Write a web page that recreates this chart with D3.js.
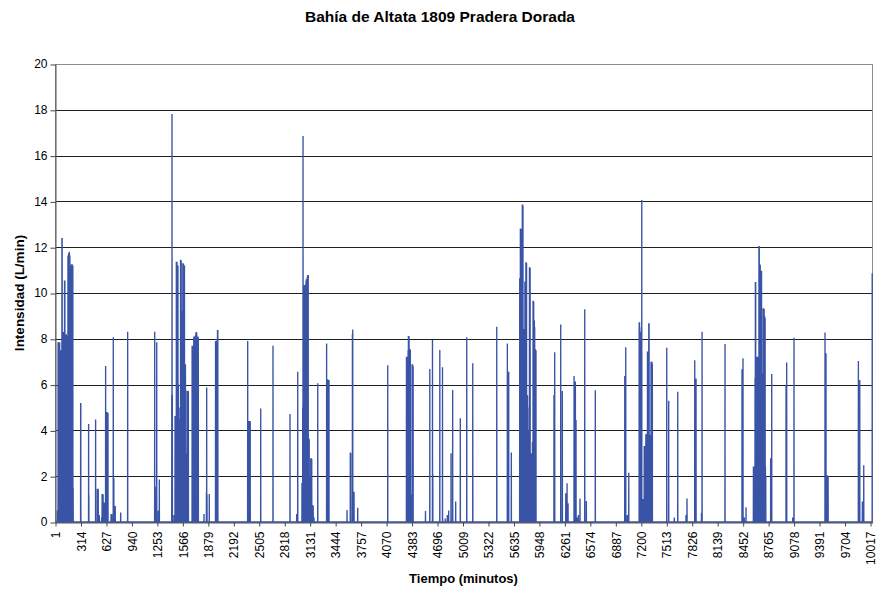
<!DOCTYPE html>
<html><head><meta charset="utf-8">
<script src="https://cdn.jsdelivr.net/npm/d3@7"></script>
<style>
html,body{margin:0;padding:0;background:#fff}
svg{display:block}
text{font-family:"Liberation Sans",Arial,Helvetica,sans-serif;fill:#000}
</style>
</head><body>
<svg id="chart" width="878" height="590"></svg>
<script>
// ---------- DATA ----------
const titulo = "Bahía de Altata 1809 Pradera Dorada";
const tituloX = "Tiempo (minutos)";
const tituloY = "Intensidad (L/min)";
const etiquetasX = [1,314,627,940,1253,1566,1879,2192,2505,2818,3131,3444,3757,4070,4383,4696,5009,5322,5635,5948,6261,6574,6887,7200,7513,7826,8139,8452,8765,9078,9391,9704,10017];
const etiquetasY = [0,2,4,6,8,10,12,14,16,18,20];
const minutoInicial = 1;
const minutoFinal = 10044;
// Recorded non-zero readings (minute, L/min); minutes not listed read 0.
const minutos = [
  23,27,33,38,43,48,53,58,62,66,70,75,80,83,87,91,95,99,103,108,
  112,116,120,124,128,131,134,138,142,146,150,154,158,162,166,170,174,178,182,186,
  190,194,198,202,206,210,214,218,
  310,312,408,411,494,515,520,526,539,568,574,580,586,600,617,633,640,646,684,692,711,718,735,802,888,
  1220,1227,1245,1264,1277,
  1430,1433,1437,1457,1470,1474,1478,1482,1486,1490,1494,1498,1502,1506,1510,1514,1518,1522,1526,1530,
  1534,1538,1542,1546,1550,1554,1558,1562,1566,1570,1574,1578,1582,1586,1590,1594,1598,1602,1606,1618,
  1622,1626,1630,1634,
  1680,1684,1688,1692,1696,1700,1704,1708,1712,1716,1720,1724,1728,1732,1736,1740,1744,1748,1752,1756,
  1826,1856,1859,1863,1891,1968,1972,1976,1980,1984,1988,1992,1996,2363,2378,2386,2394,2523,2674,2883,2965,2978,
  3030,3035,3039,3043,3047,3051,3055,3059,3063,3067,3071,3075,3079,3083,3087,3091,3095,3099,3103,3107,
  3111,3115,3119,3124,3128,3133,3138,3142,3146,3150,3156,3162,3168,3178,
  3224,3333,3346,3362,3584,3624,3629,3650,3654,3670,3715,4084,
  4314,4318,4322,4326,4330,4334,4338,4342,4346,4350,4354,4358,4362,4366,4370,4374,4378,4384,4388,4392,4396,
  4548,4601,4634,4638,4724,4757,4790,4816,4833,4862,4882,4919,4976,5055,5129,5424,5554,5571,5603,
  5706,5710,5714,5718,5722,5726,5730,5734,5738,5742,5746,5750,5754,5758,5762,5766,5770,5774,5778,5782,
  5786,5790,5794,5798,5802,5806,5810,5814,5818,5822,5826,5830,5834,5838,5842,5846,5850,5854,5858,5862,
  5866,5870,5874,5878,5882,5886,5890,5894,5898,5902,5906,
  6127,6136,6210,6230,6272,6288,6300,6374,6390,6398,6414,6427,6447,6505,6525,6635,6997,7009,7028,7046,
  7174,7178,7182,7186,7190,7195,7200,7206,7212,7218,7224,7230,7236,7240,7244,7248,7252,7256,7260,7264,
  7268,7272,7276,7280,7284,7288,7292,7296,7300,7304,7308,7312,7316,7320,7324,7328,7332,7336,
  7513,7537,7606,7648,7750,7762,7857,7873,7940,7947,8229,8438,8450,8466,8487,
  8578,8582,8586,8590,8594,8598,8602,8606,8610,8614,8618,8622,8626,8630,8634,8638,8642,8646,8650,8654,
  8658,8662,8666,8670,8674,8678,8682,8686,8690,8694,8698,8702,8706,8710,8714,8718,8722,8726,8730,
  8790,8803,8979,8987,9061,9077,9458,9470,9486,9496,9868,9885,9917,9934,10038,10039,10040
];
const intensidad = [
  0.5,0.5,7.85,7.85,7.85,7.85,7.85,7.5,3.6,7.5,7.5,3.7,12.4,12.4,8.3,8.3,8.3,8.3,8.3,8.2,
  10.55,10.55,8.2,8.2,8.2,0.9,8.2,8.1,8.1,8.1,8.1,11.6,11.65,11.7,11.75,11.8,11.7,11.6,7.0,7.0,
  4.0,11.2,11.25,11.25,11.25,11.2,11.2,1.5,
  5.2,5.2,4.28,1.2,4.48,1.45,1.45,1.43,0.3,0.2,1.22,1.22,1.2,0.85,6.81,4.8,4.78,4.75,0.35,0.35,8.07,1.92,0.7,0.41,8.31,
  8.31,1.54,7.85,0.5,1.86,
  5.55,17.82,5.55,0.3,4.63,4.6,3.5,1.0,11.37,11.37,11.35,6.08,11.2,11.2,6.0,3.0,2.3,4.5,1.0,5.0,
  2.0,11.45,11.45,11.4,6.0,9.23,9.23,9.2,11.3,11.3,11.25,3.0,11.2,11.2,6.89,6.89,6.88,3.0,1.0,5.73,
  5.73,5.73,5.73,5.7,
  7.7,7.7,7.6,5.0,7.7,8.1,8.1,8.1,8.0,8.1,8.1,8.2,8.28,8.3,8.28,8.1,8.1,8.1,8.1,8.05,
  0.35,1.3,5.87,1.2,1.22,7.9,7.9,7.9,7.9,7.9,8.0,8.38,8.38,7.9,4.41,4.41,4.4,4.96,7.7,4.72,0.35,6.56,
  1.7,1.0,5.0,16.86,5.0,10.35,10.35,10.35,10.35,10.35,10.35,10.35,10.5,10.6,10.6,10.6,10.7,10.79,10.79,10.79,
  3.65,3.65,3.6,1.2,1.2,2.0,2.78,2.78,2.78,2.75,0.74,0.74,0.7,0.2,
  6.06,7.8,6.23,6.2,0.52,3.04,3.0,8.2,8.41,1.32,0.62,6.84,
  7.22,7.22,7.2,7.2,3.0,7.5,8.12,8.12,8.1,7.55,7.55,7.55,7.5,1.2,1.2,1.0,1.2,6.89,6.89,6.85,6.8,
  0.48,6.68,7.95,2.1,7.51,6.76,0.15,0.3,0.5,3.0,5.76,0.89,4.53,8.07,6.93,8.53,7.8,6.56,3.03,
  10.64,10.64,12.82,12.82,12.8,8.0,10.5,8.0,13.87,13.87,13.8,8.0,4.0,8.43,8.43,8.4,10.5,10.5,8.0,11.34,
  11.34,11.3,5.0,5.55,5.5,2.5,4.0,2.0,3.0,5.0,11.12,11.12,11.1,3.0,3.0,2.8,3.0,3.0,2.5,3.5,
  3.0,9.66,9.66,9.6,8.8,8.8,8.5,7.54,7.54,7.5,7.5,
  5.55,7.41,8.62,5.72,1.25,1.69,0.82,6.38,6.14,4.45,0.2,0.3,1.03,9.29,0.92,5.75,6.38,7.63,0.3,2.15,
  8.72,8.72,8.5,8.31,8.31,1.0,0.5,14.06,1.0,1.0,1.0,0.9,3.32,3.32,3.3,3.3,3.3,3.83,3.83,3.8,
  3.85,3.8,7.44,7.44,3.8,3.8,8.68,8.68,3.8,3.8,3.7,3.8,3.8,7.0,7.0,7.0,7.0,6.9,
  7.61,5.3,0.2,5.69,0.3,1.03,7.06,6.27,0.4,8.31,7.77,6.67,7.15,0.2,0.64,
  2.42,2.42,2.4,2.4,2.4,6.3,10.48,10.48,6.3,6.3,7.22,6.5,7.22,7.22,7.2,7.22,7.0,12.05,12.05,11.25,
  11.25,11.2,10.97,10.97,10.9,10.97,6.5,6.5,6.5,6.5,9.33,9.33,9.3,9.3,8.97,8.97,8.9,2.4,2.0,
  2.78,6.46,5.97,6.96,0.2,8.05,8.27,7.37,2.04,2.0,7.03,6.2,0.9,2.48,10.85,10.85,10.85
];
if (minutos.length !== intensidad.length) console.error("length mismatch", minutos.length, intensidad.length);

// ---------- LAYOUT ----------
const svg = d3.select("#chart");
const plot = {left:55.5, right:872.5, top:64.5, bottom:522.5};
const x = d3.scaleLinear().domain([minutoInicial, minutoFinal]).range([55.5, 872.7]);
const y = d3.scaleLinear().domain([0, 20]).range([522, 64]);
const crisp = v => Math.round(v) + 0.5;

// Gridlines
svg.append("g").selectAll("line").data(etiquetasY.filter(v => v > 0 && v < 20)).join("line")
  .attr("x1", plot.left).attr("x2", plot.right)
  .attr("y1", d => crisp(y(d))).attr("y2", d => crisp(y(d)))
  .attr("stroke", "#1e1e1e").attr("stroke-width", 1);

// Plot border
svg.append("rect").attr("x", plot.left).attr("y", crisp(y(20)))
  .attr("width", plot.right - plot.left).attr("height", crisp(y(0)) - crisp(y(20)))
  .attr("fill", "none").attr("stroke", "#8c8c8c").attr("stroke-width", 1);

// Series: sparse readings expanded with zero baseline between them
const puntos = [[minutoInicial, 0]];
let prev = minutoInicial;
minutos.forEach((t, i) => {
  if (t - prev >= 2) puntos.push([prev + 1, 0]);
  if (t - 1 > prev + 1) puntos.push([t - 1, 0]);
  puntos.push([t, intensidad[i]]);
  prev = t;
});

svg.append("path").datum(puntos)
  .attr("d", d3.line().x(d => x(d[0])).y(d => y(d[1])))
  .attr("fill", "none").attr("stroke", "#3953a6").attr("stroke-width", 1.35)
  .attr("stroke-linejoin", "bevel");

// Y axis
const gy = svg.append("g").attr("transform", `translate(${plot.left},0)`)
  .call(d3.axisLeft(y).tickValues(etiquetasY).tickSize(5).tickSizeOuter(0).tickPadding(3).tickFormat(d3.format("d")));
gy.select(".domain").attr("stroke", "#555");
gy.selectAll(".tick line").attr("stroke", "#444").attr("transform", "translate(0,0.5)");
gy.selectAll(".tick text").attr("font-size", 12).attr("font-family", '"Liberation Sans",Arial,sans-serif').attr("fill", "#000");

// X axis
const gx = svg.append("g").attr("transform", `translate(0,${plot.bottom})`)
  .call(d3.axisBottom(x).tickValues(etiquetasX).tickSize(4).tickSizeOuter(0).tickFormat(d3.format("d")));
gx.select(".domain").attr("stroke", "#555");
gx.selectAll(".tick line").attr("stroke", "#444");
gx.selectAll(".tick text")
  .attr("font-size", 12).attr("font-family", '"Liberation Sans",Arial,sans-serif').attr("fill", "#000")
  .attr("transform", "rotate(-90)")
  .attr("x", -9).attr("y", 0).attr("dy", "0.35em")
  .attr("text-anchor", "end");

// Titles
svg.append("text").attr("x", 440).attr("y", 22).attr("text-anchor", "middle")
  .attr("font-size", 15.5).attr("font-weight", "bold").text(titulo);
svg.append("text").attr("x", 463.5).attr("y", 583).attr("text-anchor", "middle")
  .attr("font-size", 13).attr("font-weight", "bold").text(tituloX);
svg.append("text").attr("transform", "translate(19,293) rotate(-90)")
  .attr("text-anchor", "middle").attr("dy", "0.35em")
  .attr("font-size", 13.5).attr("font-weight", "bold").text(tituloY);
</script>
</body></html>
